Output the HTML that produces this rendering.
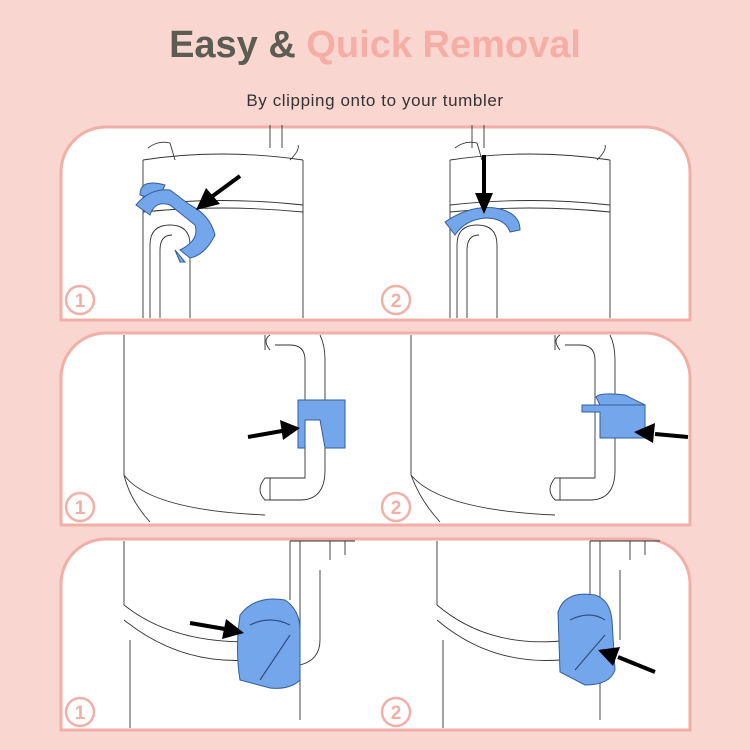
<!DOCTYPE html>
<html><head><meta charset="utf-8"><style>
html,body{margin:0;padding:0}
body{width:750px;height:750px;background:#fad6d1;overflow:hidden;position:relative;font-family:"Liberation Sans",sans-serif}
</style></head><body>
<svg width="750" height="750" viewBox="0 0 750 750" xmlns="http://www.w3.org/2000/svg" style="position:absolute;left:0;top:0">
<rect width="750" height="750" fill="#fad6d1"/>
<text x="375" y="57" text-anchor="middle" font-family="Liberation Sans, sans-serif" font-weight="bold" font-size="38"><tspan fill="#5c5c52">Easy &amp; </tspan><tspan fill="#f5aea5">Quick Removal</tspan></text>
<text x="375" y="106" text-anchor="middle" font-family="Liberation Sans, sans-serif" font-size="17" letter-spacing="0.6" fill="#333">By clipping onto to your tumbler</text>

<g fill="#fff" stroke="#f1afa7" stroke-width="3">
<path d="M61,320 V172 A45,45 0 0 1 106,127 H645 A45,45 0 0 1 690,172 V320 Z"/>
<path d="M61,525 V378 A45,45 0 0 1 106,333 H645 A45,45 0 0 1 690,378 V525 Z"/>
<path d="M61,730 V584 A45,45 0 0 1 106,539 H645 A45,45 0 0 1 690,584 V730 Z"/>
</g>

<g fill="none" stroke="#333" stroke-width="0.9">
<path d="M143,160 V318 M303,160 V318 M143,160 Q220,148 303,160 M143,205 Q220,196 303,205 M143,212 Q220,204 303,212"/>
<path d="M148,148 Q158,140 170,143 L175,160 M270,148 V125 M282,148 V125 M290,160 Q300,150 298,145"/>
<path d="M150,318 V245 Q150,225 170,225 Q190,225 190,245 V318 M160,318 V250 Q160,235 172,235"/>
<path d="M450,160 V318 M610,160 V318 M450,160 Q530,148 610,160 M450,205 Q530,196 610,205 M450,212 Q530,204 610,212"/>
<path d="M455,148 Q465,140 477,143 L482,160 M472,148 V125 M484,148 V125 M597,160 Q607,150 605,145"/>
<path d="M457,318 V245 Q457,225 477,225 Q497,225 497,245 V318 M467,318 V250 Q467,235 479,235"/>
<path d="M124,335 V475 Q150,510 265,515 M124,475 Q130,500 150,522 M265,335 V350 M320,335 Q325,345 325,360 V470 Q325,500 300,500 H265 Q255,490 265,478 H305 V360 Q305,345 290,345 H275"/>
<path d="M270,350 Q262,340 270,335 M270,478 V500"/>
<path d="M411,335 V475 Q440,510 555,515 M411,475 Q420,500 440,522 M555,335 V350 M610,335 Q615,345 615,360 V470 Q615,500 590,500 H555 Q545,490 555,478 H595 V360 Q595,345 580,345 H565"/>
<path d="M560,350 Q552,340 560,335 M560,478 V500"/>
<path d="M124,541 V605 Q180,650 280,640 M124,620 Q180,665 250,660 M130,640 V728 M290,541 V600 M300,541 V720 M320,570 V640 Q320,660 300,665 M290,541 H355 M330,541 V560 M345,541 V555"/>
<path d="M437,541 V605 Q490,650 570,640 M437,620 Q490,665 560,660 M443,640 V728 M590,541 V600 M600,541 V720 M620,570 V640 M590,541 H660 M630,541 V560 M645,541 V555"/>
</g>

<g fill="#74a6ec" stroke="#335d9a" stroke-width="1">
<path d="M140,195 Q140,178 165,185 L162,192 Q150,190 150,198 Z"/>
<path d="M136,205 Q150,188 170,190 L190,205 Q210,215 215,235 Q205,255 190,258 L180,250 Q200,240 195,225 L170,205 Q155,200 150,215 Z"/>
<path d="M175,250 L185,262 L180,262 Z"/>
<path d="M445,222 Q470,205 495,208 Q520,212 520,230 L510,232 Q505,218 485,218 Q465,220 455,235 Z"/>
<path d="M298,400 H345 V448 H325 L320,420 H305 V448 H298 Z"/>
<path d="M582,405 H645 V438 H600 V412 H582 Z"/>
<path d="M596,397 Q600,392 625,395 L645,405 H600 Z"/>
<path d="M240,615 Q255,595 285,600 Q300,610 300,630 V680 Q290,690 270,688 L240,680 Q235,650 240,615 Z"/>
<path d="M558,612 Q565,590 595,595 Q610,600 612,620 L615,670 Q610,685 585,685 L560,672 Z"/>
</g>
<g fill="none" stroke="#2f4f80" stroke-width="1.2">
<path d="M250,625 Q270,615 290,625 M260,680 L290,635 M570,620 Q590,610 605,620 M575,670 L605,635"/>
</g>

<g stroke="#000" stroke-width="4" fill="#000">
<line x1="240" y1="176" x2="210" y2="198"/><polygon points="196,210 206,188 220,204" stroke="none"/>
<line x1="484" y1="155" x2="484" y2="195"/><polygon points="484,214 475,193 493,193" stroke="none"/>
<line x1="248" y1="437" x2="282" y2="431"/><polygon points="300,428 280,420 283,440" stroke="none"/>
<line x1="688" y1="437" x2="655" y2="434"/><polygon points="634,432 655,423 653,443" stroke="none"/>
<line x1="190" y1="623" x2="225" y2="629"/><polygon points="244,633 226,619 222,639" stroke="none"/>
<line x1="655" y1="672" x2="618" y2="657"/><polygon points="598,650 620,647 613,666" stroke="none"/>
</g>

<g fill="none" stroke="#f1afa7" stroke-width="2.5">
<circle cx="80" cy="300" r="14"/><circle cx="396" cy="300" r="14"/>
<circle cx="80" cy="507" r="14"/><circle cx="396" cy="507" r="14"/>
<circle cx="80" cy="712" r="14"/><circle cx="396" cy="712" r="14"/>
</g>
<g fill="#f1afa7" font-family="Liberation Sans, sans-serif" font-weight="bold" font-size="19" text-anchor="middle">
<text x="80" y="307">1</text><text x="396" y="307">2</text>
<text x="80" y="514">1</text><text x="396" y="514">2</text>
<text x="80" y="719">1</text><text x="396" y="719">2</text>
</g>
</svg>
</body></html>
